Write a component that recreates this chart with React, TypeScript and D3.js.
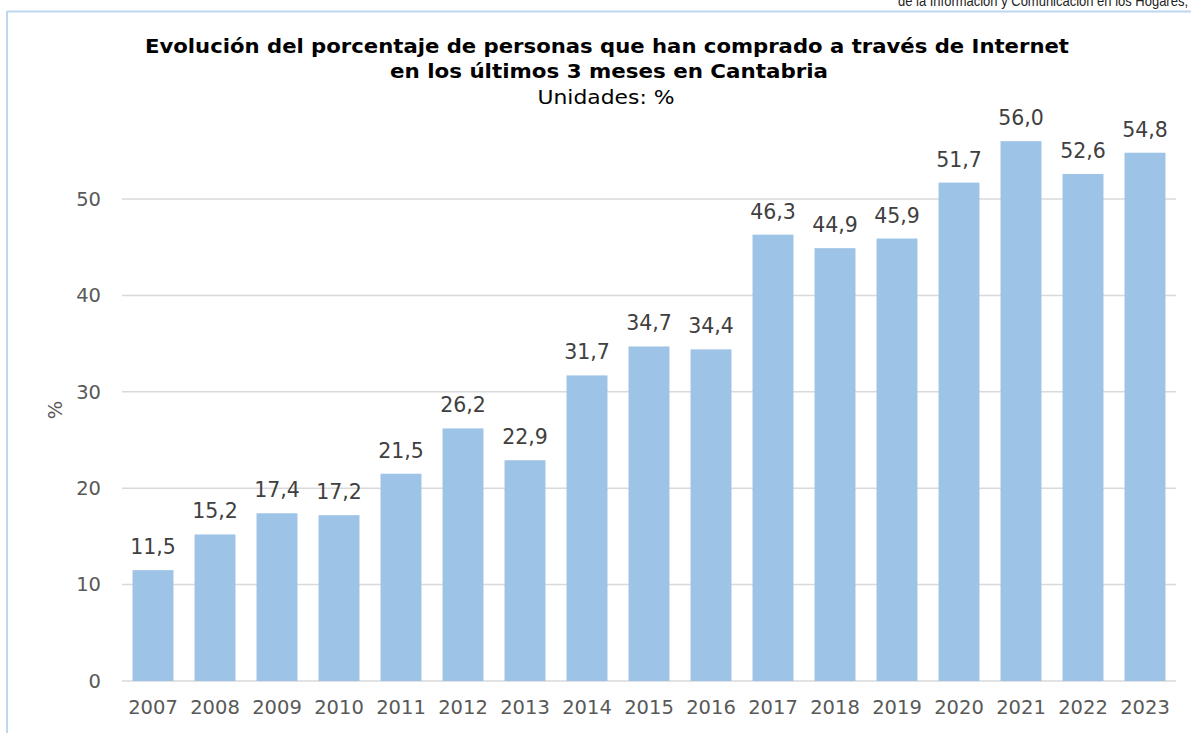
import React from "react";
import * as d3 from "d3";

const years = ["2007","2008","2009","2010","2011","2012","2013","2014","2015","2016","2017","2018","2019","2020","2021","2022","2023"];
const values = [11.5,15.2,17.4,17.2,21.5,26.2,22.9,31.7,34.7,34.4,46.3,44.9,45.9,51.7,56.0,52.6,54.8];
const yTicks = [0,10,20,30,40,50];
const titleLines = ["Evolución del porcentaje de personas que han comprado a través de Internet", "en los últimos 3 meses en Cantabria"];
const subtitle = "Unidades: %";
const topNote = "de la Información y Comunicación en los Hogares,";

const W = 1191, H = 733;
const font = "'DejaVu Sans', Verdana, sans-serif";

export default function App() {
  const x = d3.scaleBand().domain(years).range([122, 1176]).paddingInner(0.34).paddingOuter(0.17);
  const y = d3.scaleLinear().domain([0, 50]).range([681, 199]);
  const fmt = (v: number) => v.toFixed(1).replace(".", ",");
  return (
    <svg width={W} height={H} style={{ position: "absolute", left: 0, top: 0, background: "#fff" }}>
      <text x={1188} y={6} textAnchor="end" fontFamily="'Liberation Sans', Arial, sans-serif" fontSize={15} fill="#222" textLength={290} lengthAdjust="spacingAndGlyphs">{topNote}</text>
      <line x1={7} x2={W} y1={11.5} y2={11.5} stroke="#bdd7ee" strokeWidth={2} />
      <line x1={7} x2={7} y1={11} y2={H} stroke="#bdd7ee" strokeWidth={2} />
      <text x={607} y={53} textAnchor="middle" fontFamily={font} fontWeight="bold" fontSize={19} fill="#000" textLength={924} lengthAdjust="spacingAndGlyphs">{titleLines[0]}</text>
      <text x={609} y={78} textAnchor="middle" fontFamily={font} fontWeight="bold" fontSize={19} fill="#000" textLength={438} lengthAdjust="spacingAndGlyphs">{titleLines[1]}</text>
      <text x={606} y={104} textAnchor="middle" fontFamily={font} fontSize={20} fill="#000" textLength={137} lengthAdjust="spacingAndGlyphs">{subtitle}</text>
      {yTicks.map(t => (
        <g key={t}>
          <line x1={122} x2={1176} y1={y(t)} y2={y(t)} stroke="#d9d9d9" strokeWidth={1.5} />
          <text x={101} y={y(t)} dy="0.35em" textAnchor="end" fontFamily={font} fontSize={19.5} fill="#595959">{t}</text>
        </g>
      ))}
      <text transform="translate(55,410) rotate(-90)" textAnchor="middle" dy="0.35em" fontFamily={font} fontSize={19.5} fill="#595959">%</text>
      {years.map((yr, i) => (
        <g key={yr}>
          <rect x={x(yr)} y={y(values[i])} width={x.bandwidth()} height={y(0) - y(values[i])} fill="#9dc3e6" />
          <text x={(x(yr) as number) + x.bandwidth() / 2} y={y(values[i]) - 16} textAnchor="middle" fontFamily={font} fontSize={20.5} fill="#404040">{fmt(values[i])}</text>
          <text x={(x(yr) as number) + x.bandwidth() / 2} y={714} textAnchor="middle" fontFamily={font} fontSize={19.5} fill="#595959">{yr}</text>
        </g>
      ))}
    </svg>
  );
}
